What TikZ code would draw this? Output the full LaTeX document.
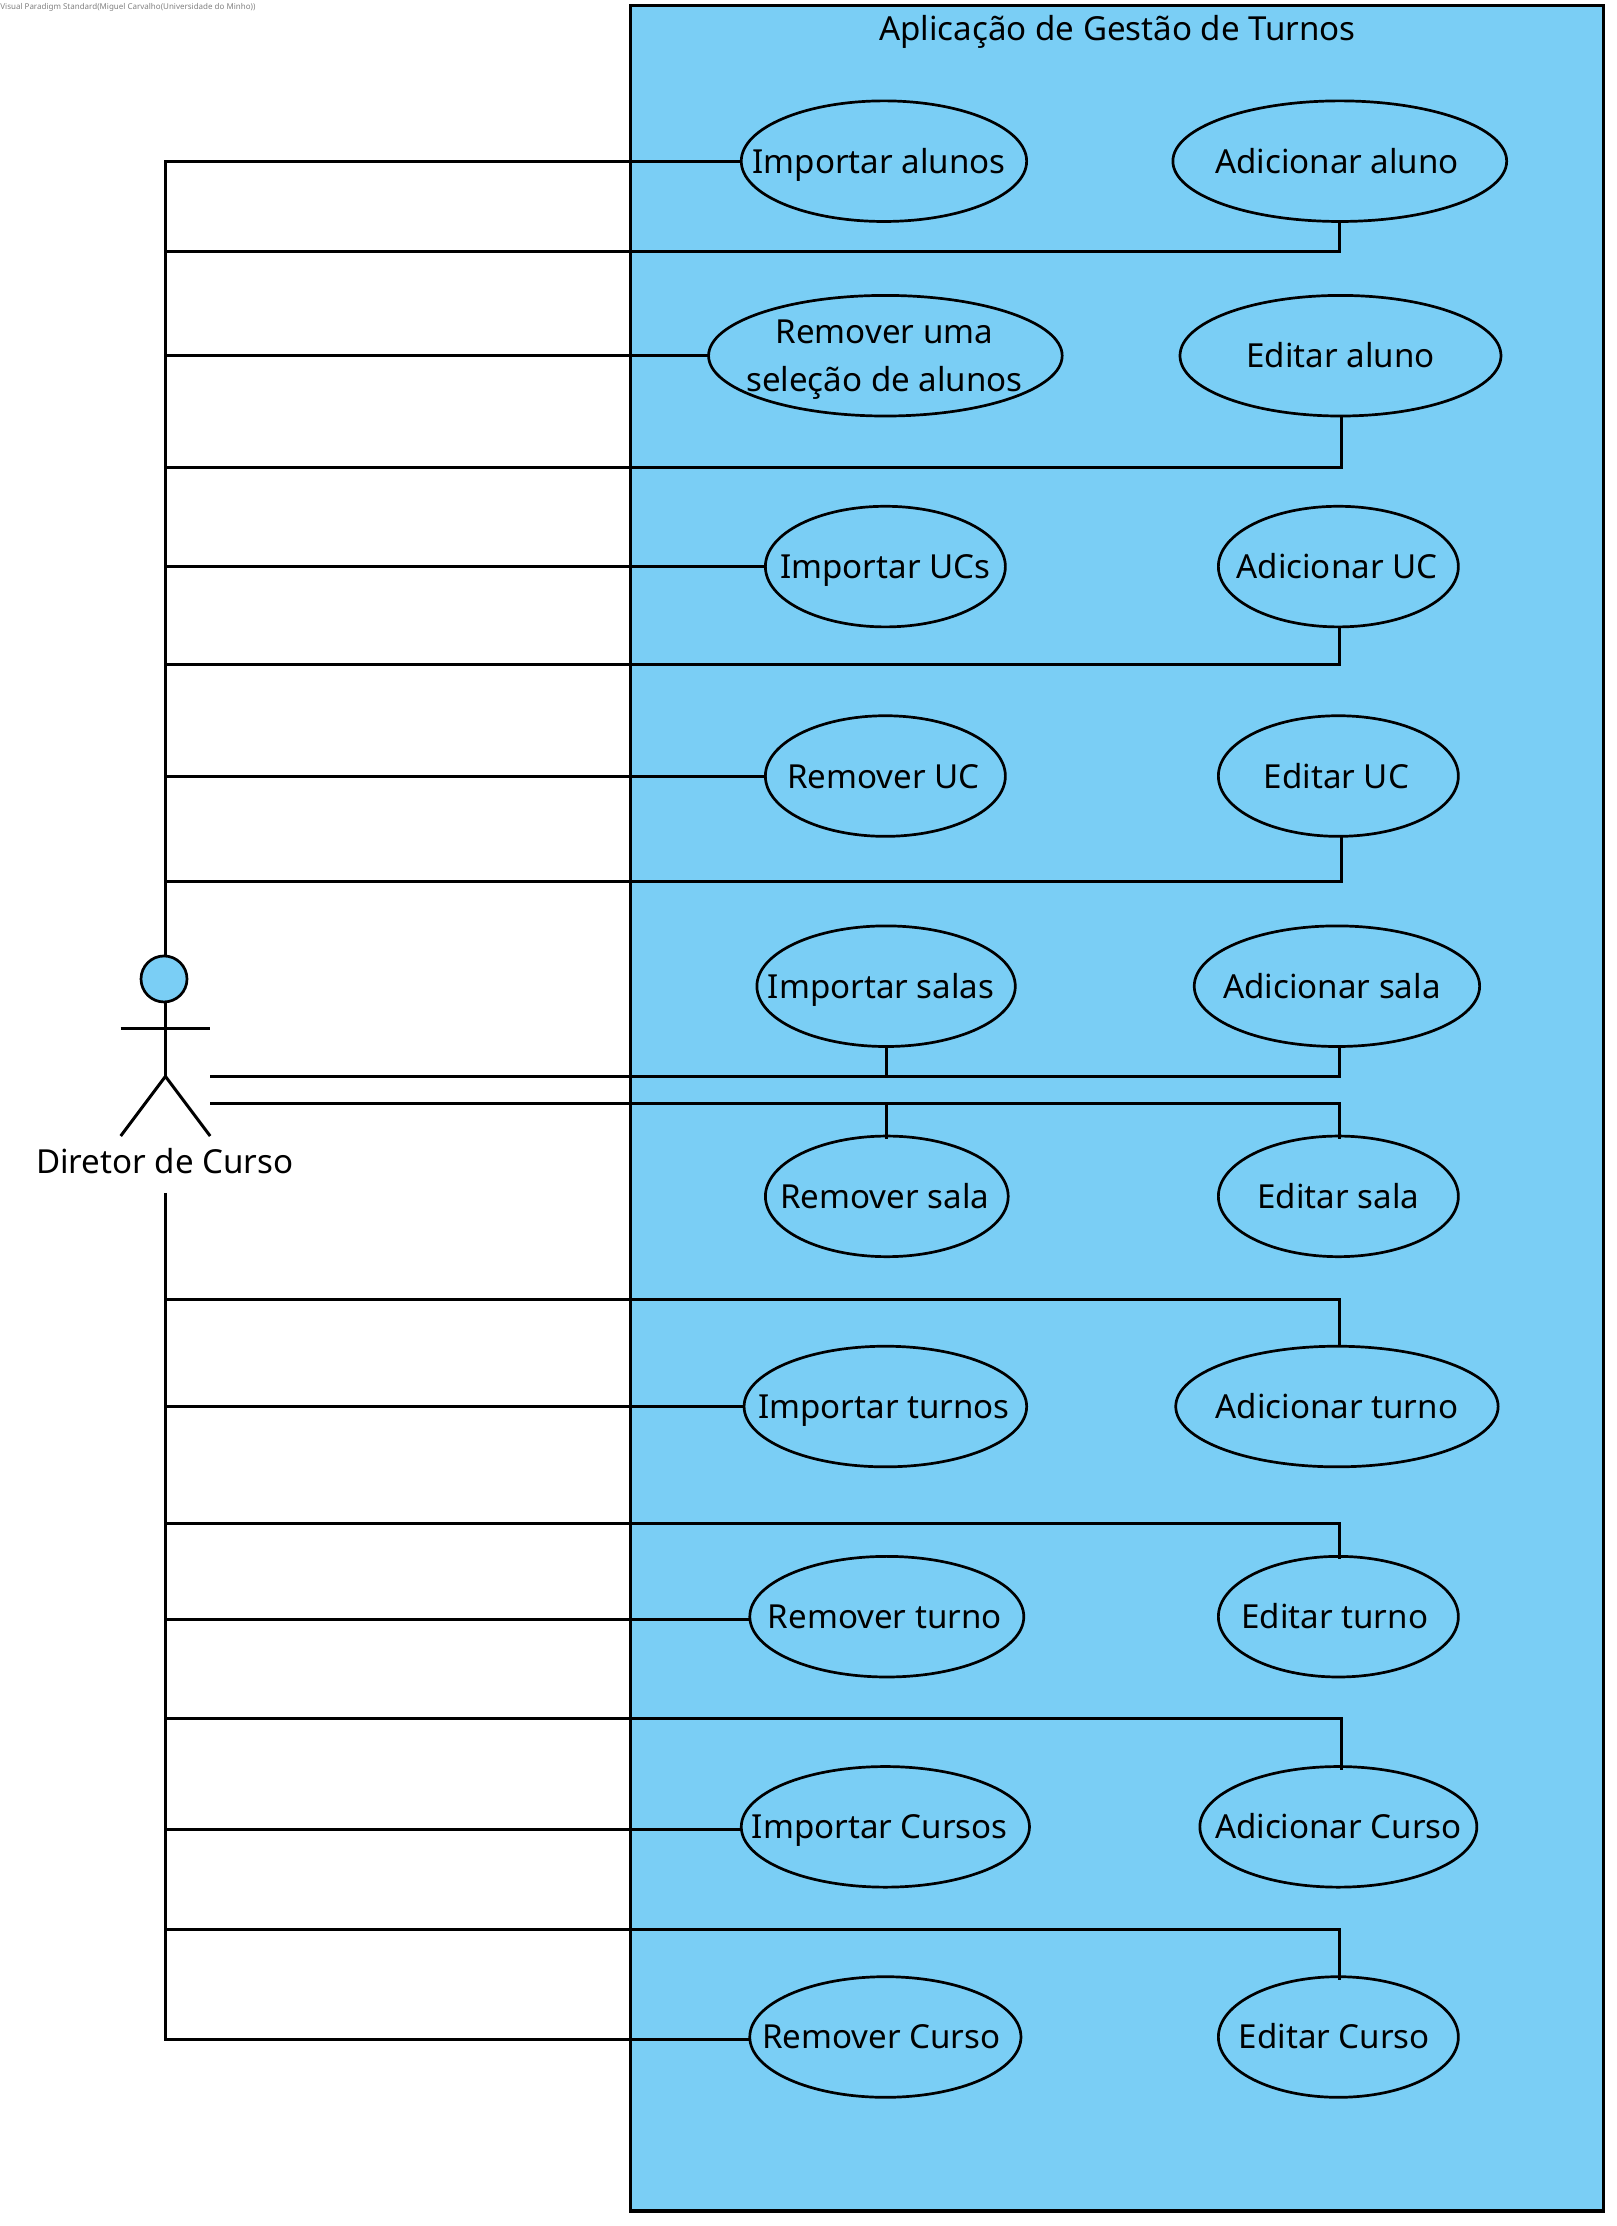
\documentclass[tikz,border=0pt]{standalone}
\usepackage{fontspec}
\setmainfont{Noto Sans}
\usetikzlibrary{shapes.geometric}
\definecolor{myblue}{RGB}{122,206,245}
\tikzstyle{system} = [draw=black, outer sep=0, inner sep=0, line width=1.6,
    fill=myblue]
\tikzstyle{usecase} = [ellipse, draw=black, outer sep=0, inner sep=0,
    minimum height=60.3pt, line width=1.35, fill=myblue,
    font=\fontsize{16.55}{24}\selectfont]
\tikzstyle{assoc} = [draw=black, line width=1.5]
\tikzstyle{associn} = [assoc, shorten >=-1.5pt]
\tikzstyle{plain} = [inner sep=0, outer sep=0, font=\fontsize{16.55}{24}\selectfont]
% text that does not widen its ellipse
\newcommand{\uctext}[2][0pt]{\raisebox{-5.5pt}[0pt][0pt]{\makebox[0pt]{\hspace{#1}\hspace{#1}\begin{tabular}{@{}c@{}}#2\end{tabular}}}}

\begin{document}
\begin{tikzpicture}[x=0.71pt, y=-0.71pt]
\useasboundingbox (0,0) rectangle (1138.7,1567.6);

\node[anchor=north west, inner sep=0, text=black!50, font=\fontsize{4}{5}\selectfont] (watermark) at (0,2) {Visual Paradigm Standard(Miguel Carvalho(Universidade do Minho))};

%%% system
\node[system, minimum width=486.4pt, minimum height=1102.6pt] (sistema) at (786.5,780.5) {};
\node[plain] (titulo) at (787,22.5) {Aplicação de Gestão de Turnos};

%%% actor
\node[circle, draw=black, fill=myblue, line width=1.35, inner sep=0, outer sep=0, minimum size=23pt] (head) at (115.5,689.4) {};
\node[plain] (diretor) at (116,817.5) {Diretor de Curso};
\coordinate (neck) at (116.5,673);
\coordinate (hip) at (116.5,758);
\coordinate (armL) at (85,724);
\coordinate (armR) at (148,724);
\coordinate (footL) at (85,800);
\coordinate (footR) at (148,800);
\coordinate (trunkLow) at (116.5,840);
\coordinate (assocA) at (148,758);
\coordinate (assocB) at (148,777);

\draw[assoc] (hip |- head.south) -- (hip);
\draw[assoc] (armL) -- (armR);
\draw[assoc] (footL) -- (hip) -- (footR);

%%% use cases
\node[usecase, minimum width=142.7pt] (impAlunos) at (622.5,113.5) {\uctext[-2.5pt]{Importar alunos}};
\node[usecase, minimum width=166.9pt] (addAluno) at (943.5,113.5) {\uctext[-1.4pt]{Adicionar aluno}};
\node[usecase, minimum width=176.8pt] (remAlunos) at (623.5,250.5) {\uctext[-0.5pt]{Remover uma \\ seleção de alunos}};
\node[usecase, minimum width=160.5pt] (editAluno) at (944,250.5) {\uctext{Editar aluno}};
\node[usecase, minimum width=120pt] (impUC) at (623.5,399) {\uctext{Importar UCs}};
\node[usecase, minimum width=120pt] (addUC) at (942.5,399) {\uctext[-0.7pt]{Adicionar UC}};
\node[usecase, minimum width=120pt] (remUC) at (623.5,546.5) {\uctext[-1pt]{Remover UC}};
\node[usecase, minimum width=120pt] (editUC) at (942.5,546.5) {\uctext[-1pt]{Editar UC}};
\node[usecase, minimum width=129.2pt] (impSalas) at (624,694.5) {\uctext[-2.5pt]{Importar salas}};
\node[usecase, minimum width=142.7pt] (addSala) at (941.5,694.5) {\uctext[-2.5pt]{Adicionar sala}};
\node[usecase, minimum width=121.4pt] (remSala) at (624.5,842.5) {\uctext[-1pt]{Remover sala}};
\node[usecase, minimum width=120pt] (editSala) at (942.5,842.5) {\uctext{Editar sala}};
\node[usecase, minimum width=141.3pt] (impTurnos) at (623.5,990.5) {\uctext[-0.7pt]{Importar turnos}};
\node[usecase, minimum width=161.2pt] (addTurno) at (941.5,990.5) {\uctext{Adicionar turno}};
\node[usecase, minimum width=137pt] (remTurno) at (624.5,1138.5) {\uctext[-1pt]{Remover turno}};
\node[usecase, minimum width=120pt] (editTurno) at (942.5,1138.5) {\uctext[-1.8pt]{Editar turno}};
\node[usecase, minimum width=144.1pt] (impCursos) at (623.5,1286.5) {\uctext[-2.8pt]{Importar Cursos}};
\node[usecase, minimum width=138.5pt] (addCurso) at (942.5,1286.5) {\uctext{Adicionar Curso}};
\node[usecase, minimum width=135.6pt] (remCurso) at (623.5,1434.5) {\uctext[-2pt]{Remover Curso}};
\node[usecase, minimum width=120pt] (editCurso) at (942.5,1434.5) {\uctext[-2pt]{Editar Curso}};

%%% elbows
\coordinate (elbowAddAluno) at (943,177);
\coordinate (elbowEditAluno) at (945,329);
\coordinate (elbowAddUC) at (943,468);
\coordinate (elbowEditUC) at (945,621);
\coordinate (elbowAddSala) at (943,758);
\coordinate (elbowEditSala) at (943,777);
\coordinate (elbowAddTurno) at (943,915);
\coordinate (elbowEditTurno) at (943,1073);
\coordinate (elbowAddCurso) at (945,1210.5);
\coordinate (elbowEditCurso) at (943,1358.5);
\coordinate (branchImpSalas) at (624,758);
\coordinate (branchRemSala) at (624,777);
\coordinate (trunkImpTurnos) at (116.5,990.5);
\coordinate (trunkRemTurno) at (116.5,1140.5);
\coordinate (trunkImpCursos) at (116.5,1288.5);
\coordinate (trunkRemCurso) at (116.5,1436.5);
\coordinate (hitImpTurnos) at (impTurnos.west |- trunkImpTurnos);
\coordinate (hitRemTurno) at (remTurno.west |- trunkRemTurno);
\coordinate (hitImpCursos) at (impCursos.west |- trunkImpCursos);
\coordinate (hitRemCurso) at (remCurso.west |- trunkRemCurso);

%%% trunk
\draw[assoc] (neck) -- (neck |- impAlunos.west) -- (impAlunos.west);
\draw[assoc] (trunkLow) -- (trunkRemCurso) -- (hitRemCurso);

%%% associations
\draw[assoc] (neck |- elbowAddAluno) -- (elbowAddAluno) -- (elbowAddAluno |- addAluno.south);
\draw[assoc] (neck |- remAlunos.west) -- (remAlunos.west);
\draw[assoc] (neck |- elbowEditAluno) -- (elbowEditAluno) -- (elbowEditAluno |- editAluno.south);
\draw[assoc] (neck |- impUC.west) -- (impUC.west);
\draw[assoc] (neck |- elbowAddUC) -- (elbowAddUC) -- (elbowAddUC |- addUC.south);
\draw[assoc] (neck |- remUC.west) -- (remUC.west);
\draw[assoc] (neck |- elbowEditUC) -- (elbowEditUC) -- (elbowEditUC |- editUC.south);

\draw[assoc] (assocA) -- (elbowAddSala) -- (elbowAddSala |- addSala.south);
\draw[assoc] (branchImpSalas) -- (branchImpSalas |- impSalas.south);
\draw[associn] (assocB) -- (elbowEditSala) -- (elbowEditSala |- editSala.north);
\draw[associn] (branchRemSala) -- (branchRemSala |- remSala.north);

\draw[assoc] (neck |- elbowAddTurno) -- (elbowAddTurno) -- (elbowAddTurno |- addTurno.north);
\draw[assoc] (trunkImpTurnos) -- (hitImpTurnos);
\draw[associn] (neck |- elbowEditTurno) -- (elbowEditTurno) -- (elbowEditTurno |- editTurno.north);
\draw[assoc] (trunkRemTurno) -- (hitRemTurno);
\draw[associn] (neck |- elbowAddCurso) -- (elbowAddCurso) -- (elbowAddCurso |- addCurso.north);
\draw[assoc] (trunkImpCursos) -- (hitImpCursos);
\draw[associn] (neck |- elbowEditCurso) -- (elbowEditCurso) -- (elbowEditCurso |- editCurso.north);

\end{tikzpicture}
\end{document}
